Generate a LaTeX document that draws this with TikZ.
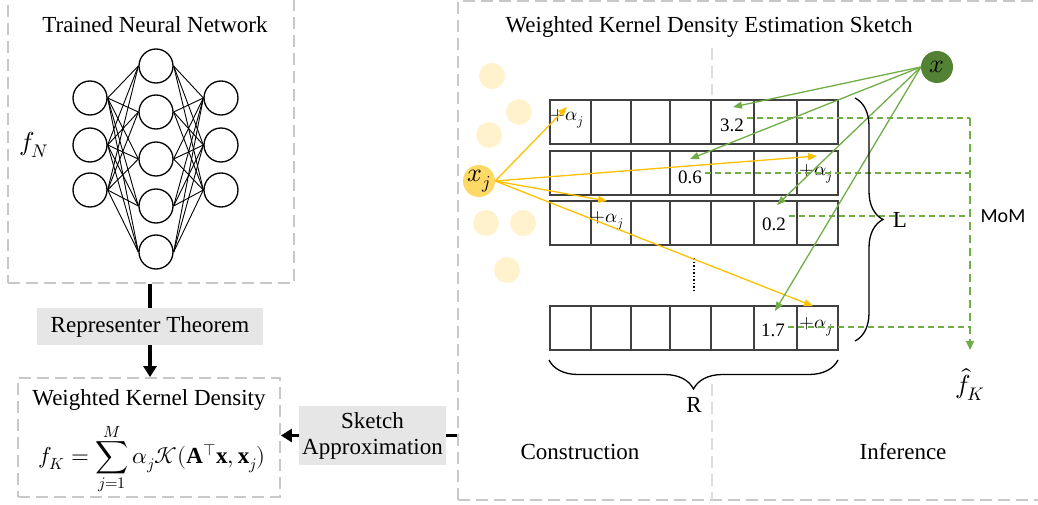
\documentclass[tikz,border=0pt]{standalone}
\usepackage{fontspec}
\usepackage{unicode-math}
\setmainfont{Liberation Serif}
\setmathfont{Latin Modern Math}
\newfontfamily\momfont{Carlito}
\usetikzlibrary{arrows.meta,decorations.pathreplacing}
\definecolor{boxgray}{HTML}{C8C8C8}
\definecolor{divgray}{HTML}{DDDDDD}
\definecolor{fillgray}{HTML}{E7E6E6}
\definecolor{paleyel}{HTML}{FFF2CC}
\definecolor{xjyel}{HTML}{FFD966}
\definecolor{arryel}{HTML}{FFC000}
\definecolor{arrgrn}{HTML}{70AD47}
\definecolor{xgrn}{HTML}{548235}
\definecolor{celline}{HTML}{404040}
\begin{document}
\begin{tikzpicture}[x=1pt,y=-1pt,
  big/.style={font=\rmfamily\fontsize{23}{27}\selectfont},
  bigmath/.style={font=\rmfamily\fontsize{26}{30}\selectfont},
  small/.style={font=\rmfamily\fontsize{19}{22}\selectfont},
  dashbox/.style={draw=boxgray,line width=1.8pt,dash pattern=on 12pt off 6pt,inner sep=0pt},
  graybox/.style={fill=fillgray,inner sep=0pt,align=center,font=\rmfamily\fontsize{23}{27}\selectfont},
  neuron/.style={circle,draw,line width=1.3pt,minimum size=34pt,inner sep=0pt},
  blk/.style={line width=3.5pt},
  blkarr/.style={line width=3.5pt,-{Triangle[length=11pt,width=13pt]}},
  yarr/.style={arryel,line width=1.3pt,-{Triangle[length=9pt,width=7pt]}},
  garr/.style={arrgrn,line width=1.3pt,-{Triangle[length=9pt,width=7pt]}},
  gdash/.style={arrgrn,line width=1.3pt,dash pattern=on 6pt off 4pt},
  gdashv/.style={arrgrn,line width=1.8pt,dash pattern=on 8pt off 5pt,-{Triangle[length=9pt,width=8pt]}},
  pale/.style={circle,fill=paleyel,minimum size=26pt,inner sep=0pt},
  cell/.style={draw=celline,line width=1.3pt,fill=white}
]
\useasboundingbox (0,0) rectangle (1038,505);

% ---------- boxes ----------
\node[dashbox,minimum width=286pt,minimum height=285pt] (nnbox) at (151,140.5) {};
\node[dashbox,minimum width=587pt,minimum height=499pt] (sk) at (751.5,250.5) {};
\node[dashbox,minimum width=262pt,minimum height=119pt] (wkd) at (149,437.5) {};

% ---------- left panel ----------
\node[big] (nntitle) at (155,25) {Trained Neural Network};
\node[bigmath] (fN) at (34,145) {$f_N$};
\foreach \i/\y in {1/98,2/145,3/190}{
  \node[neuron] (l\i) at (90,\y) {};
  \node[neuron] (r\i) at (221,\y) {};
}
\foreach \i/\y in {1/66,2/112,3/159,4/206,5/252}{
  \node[neuron] (m\i) at (156,\y) {};
}
\foreach \a in {1,2,3}{
  \foreach \b in {1,...,5}{
    \draw[line width=0.9pt] (l\a.east) -- (m\b.west);
    \draw[line width=0.9pt] (m\b.east) -- (r\a.west);
  }
}

\node[graybox,minimum width=226pt,minimum height=37pt] (rep) at (150,326.5) {Representer Theorem};
\node[graybox,minimum width=147pt,minimum height=59pt] (sketch) at (372.5,435.5) {Sketch\\[-1pt]Approximation};
\node[big] (wkdtitle) at (149,400) {Weighted Kernel Density};
\node[big] (formula) at (152,459) {$\displaystyle f_K=\sum_{j=1}^{M}\alpha_j\mathcal{K}(\mathbf{A}^{\top}\mathbf{x},\mathbf{x}_j)$};

\draw[blk] (nnbox.south -| rep.north) -- (rep.north);
\draw[blkarr] (rep.south) -- (wkd.north -| rep.south);
\draw[blk] (sk.west |- sketch.east) -- (sketch.east);
\draw[blkarr] (sketch.west) -- (wkd.east |- sketch.west);

% ---------- right panel ----------
\node[big] (sktitle) at (709,27) {Weighted Kernel Density Estimation Sketch};
\draw[divgray,line width=1.8pt,dash pattern=on 12pt off 6pt] (712,48) -- (712,95);
\draw[divgray,line width=1.8pt,dash pattern=on 12pt off 6pt] (712,384) -- (712,500);

\foreach \p in {(492,76),(519,112),(489,135),(486,223),(523,223),(507,270)}
  \node[pale] at \p {};

% table rows
\foreach \t in {100,151,201,306}{
  \foreach \xa/\xb in {550/591,591/631,631/670,670/711,711/754,754/797,797/838}{
    \draw[cell] (\xa,\t) rectangle (\xb,\t+44);
  }
}
\draw[line width=1.5pt,dotted] (694,258) -- (694,292);

% cell texts
\node[small] (a1) at (567,119) {$+\alpha_j$};
\node[small] (v32) at (732,125) {3.2};
\node[small] (v06) at (690,177) {0.6};
\node[small] (a2) at (816,174) {$+\alpha_j$};
\node[small] (a3) at (607,221) {$+\alpha_j$};
\node[small] (v02) at (774,224) {0.2};
\node[small] (v17) at (773,330) {1.7};
\node[small] (a4) at (816,327) {$+\alpha_j$};

% x_j and x nodes
\node[circle,fill=xjyel,minimum size=32pt,inner sep=0pt,bigmath] (xj) at (479,181) {$x_j$};
\node[circle,fill=xgrn,minimum size=32pt,inner sep=0pt,bigmath] (x) at (937,67) {$x$};

% target coordinates
\coordinate (ty1) at (567,107);
\coordinate (ty2) at (817,156);
\coordinate (ty3) at (607,201);
\coordinate (ty4) at (813,306);
\coordinate (tg1) at (733,107);
\coordinate (tg2) at (690,159);
\coordinate (tg3) at (777,205);
\coordinate (tg4) at (775,311);

\foreach \t in {ty1,ty2,ty3,ty4} \draw[yarr] (xj.east) -- (\t);
\foreach \t in {tg1,tg2,tg3,tg4} \draw[garr] (x.west) -- (\t);

% MoM dashed lines
\coordinate (m1) at (970,118);
\coordinate (m2) at (970,173);
\coordinate (m3) at (970,216);
\coordinate (m4) at (970,327);
\coordinate (mend) at (970,350);
\draw[gdash] (m1 -| v32.east) -- (m1);
\draw[gdash] (m2 -| v06.east) -- (m2);
\draw[gdash] (m3 -| v02.east) -- (m3);
\draw[gdash] (m4 -| v17.east) -- (m4);
\draw[gdashv] (m1) -- (mend);
\node[font=\momfont\fontsize{20}{24}\selectfont] (mom) at (1003,216) {MoM};
\node[font=\fontsize{26}{30}\selectfont] (fhat) at (970,384) {$\hat{f}_K$};

% braces
\draw[line width=1.3pt,decorate,decoration={brace,amplitude=28pt}] (855,98) -- (855,341);
\node[big] (L) at (900,220) {L};
\draw[line width=1.3pt,decorate,decoration={brace,amplitude=29pt}] (838,360) -- (549,360);
\node[big] (R) at (694,405) {R};

\node[big] (constr) at (580,452) {Construction};
\node[big] (infer) at (903,452) {Inference};
\end{tikzpicture}
\end{document}
